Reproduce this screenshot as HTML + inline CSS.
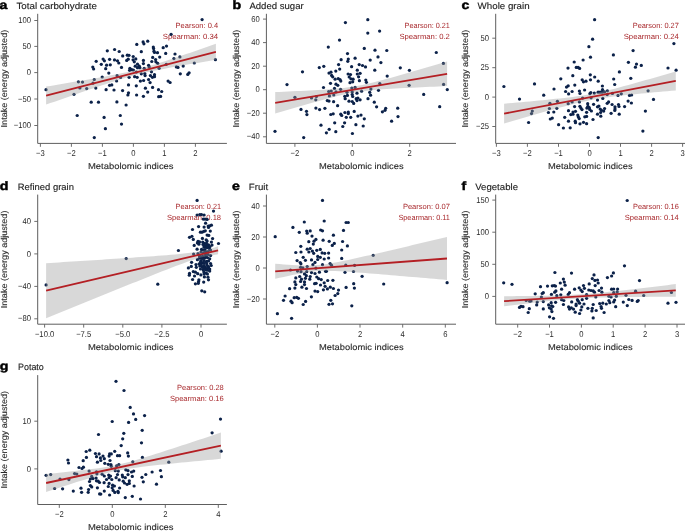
<!DOCTYPE html><html><head><meta charset="utf-8"><style>html,body{margin:0;padding:0;background:#fff;width:685px;height:531px;overflow:hidden}svg{display:block;will-change:transform;text-rendering:geometricPrecision}</style></head><body>
<svg width="685" height="531" viewBox="0 0 685 531" font-family='"Liberation Sans", sans-serif'>
<g fill="#0b2149"><text x="-0.6" y="8.8" font-size="12" font-weight="bold" fill="#000" stroke="#000" stroke-width="0.45" textLength="7.87" lengthAdjust="spacingAndGlyphs">a</text><text x="16.4" y="8.8" font-size="9.2" fill="#1a1a1a" stroke="#1a1a1a" stroke-width="0.12" textLength="80.6" lengthAdjust="spacingAndGlyphs">Total carbohydrate</text><text x="175.6" y="27.6" font-size="7.5" fill="#a8282c" textLength="42.5" lengthAdjust="spacingAndGlyphs">Pearson: 0.4</text><text x="162.7" y="38.7" font-size="7.5" fill="#a8282c" textLength="55.4" lengthAdjust="spacingAndGlyphs">Spearman: 0.34</text><circle cx="136.8" cy="44.4" r="1.62"/><circle cx="107.3" cy="50.8" r="1.62"/><circle cx="114.6" cy="49.5" r="1.62"/><circle cx="119.2" cy="51.5" r="1.62"/><circle cx="122.7" cy="55.9" r="1.62"/><circle cx="127.3" cy="55.2" r="1.62"/><circle cx="129.0" cy="55.3" r="1.62"/><circle cx="133.2" cy="56.5" r="1.62"/><circle cx="171.1" cy="34.3" r="1.62"/><circle cx="143.1" cy="41.9" r="1.62"/><circle cx="143.9" cy="43.8" r="1.62"/><circle cx="147.7" cy="41.2" r="1.62"/><circle cx="153.3" cy="47.1" r="1.62"/><circle cx="153.6" cy="48.6" r="1.62"/><circle cx="154.0" cy="51.2" r="1.62"/><circle cx="154.5" cy="52.5" r="1.62"/><circle cx="157.5" cy="52.7" r="1.62"/><circle cx="141.3" cy="51.7" r="1.62"/><circle cx="163.2" cy="47.7" r="1.62"/><circle cx="166.5" cy="46.1" r="1.62"/><circle cx="165.7" cy="53.4" r="1.62"/><circle cx="175.0" cy="54.0" r="1.62"/><circle cx="159.7" cy="57.1" r="1.62"/><circle cx="152.7" cy="57.4" r="1.62"/><circle cx="179.9" cy="56.9" r="1.62"/><circle cx="202.1" cy="19.6" r="1.62"/><circle cx="96.2" cy="61.3" r="1.62"/><circle cx="92.8" cy="67.0" r="1.62"/><circle cx="93.6" cy="69.0" r="1.62"/><circle cx="94.3" cy="79.5" r="1.62"/><circle cx="93.0" cy="83.2" r="1.62"/><circle cx="78.4" cy="81.8" r="1.62"/><circle cx="82.5" cy="82.1" r="1.62"/><circle cx="46.0" cy="89.7" r="1.62"/><circle cx="79.9" cy="88.0" r="1.62"/><circle cx="86.7" cy="88.6" r="1.62"/><circle cx="95.8" cy="88.1" r="1.62"/><circle cx="74.0" cy="94.3" r="1.62"/><circle cx="103.1" cy="59.1" r="1.62"/><circle cx="104.4" cy="60.8" r="1.62"/><circle cx="109.6" cy="59.3" r="1.62"/><circle cx="114.5" cy="59.9" r="1.62"/><circle cx="117.5" cy="60.8" r="1.62"/><circle cx="118.8" cy="63.0" r="1.62"/><circle cx="101.3" cy="64.3" r="1.62"/><circle cx="106.6" cy="65.2" r="1.62"/><circle cx="110.3" cy="64.8" r="1.62"/><circle cx="105.7" cy="68.7" r="1.62"/><circle cx="108.8" cy="73.1" r="1.62"/><circle cx="117.1" cy="75.7" r="1.62"/><circle cx="102.2" cy="77.0" r="1.62"/><circle cx="116.6" cy="81.0" r="1.62"/><circle cx="109.6" cy="85.3" r="1.62"/><circle cx="111.8" cy="84.9" r="1.62"/><circle cx="128.5" cy="84.9" r="1.62"/><circle cx="136.3" cy="85.8" r="1.62"/><circle cx="106.1" cy="89.7" r="1.62"/><circle cx="114.0" cy="90.0" r="1.62"/><circle cx="122.6" cy="90.6" r="1.62"/><circle cx="145.4" cy="88.2" r="1.62"/><circle cx="152.6" cy="87.4" r="1.62"/><circle cx="158.5" cy="89.7" r="1.62"/><circle cx="128.5" cy="92.8" r="1.62"/><circle cx="127.9" cy="95.0" r="1.62"/><circle cx="136.6" cy="95.0" r="1.62"/><circle cx="147.7" cy="92.1" r="1.62"/><circle cx="143.4" cy="96.3" r="1.62"/><circle cx="158.7" cy="96.7" r="1.62"/><circle cx="126.7" cy="60.4" r="1.62"/><circle cx="128.2" cy="59.2" r="1.62"/><circle cx="133.1" cy="59.8" r="1.62"/><circle cx="135.8" cy="58.9" r="1.62"/><circle cx="134.3" cy="61.8" r="1.62"/><circle cx="143.4" cy="60.4" r="1.62"/><circle cx="143.4" cy="63.6" r="1.62"/><circle cx="151.8" cy="61.5" r="1.62"/><circle cx="155.6" cy="59.5" r="1.62"/><circle cx="155.9" cy="61.8" r="1.62"/><circle cx="157.7" cy="63.3" r="1.62"/><circle cx="121.5" cy="67.4" r="1.62"/><circle cx="129.9" cy="68.3" r="1.62"/><circle cx="129.6" cy="70.3" r="1.62"/><circle cx="131.7" cy="69.7" r="1.62"/><circle cx="135.2" cy="66.2" r="1.62"/><circle cx="137.5" cy="64.2" r="1.62"/><circle cx="139.3" cy="66.2" r="1.62"/><circle cx="139.9" cy="67.7" r="1.62"/><circle cx="137.5" cy="67.7" r="1.62"/><circle cx="144.2" cy="68.3" r="1.62"/><circle cx="148.6" cy="65.3" r="1.62"/><circle cx="149.2" cy="67.1" r="1.62"/><circle cx="133.4" cy="70.0" r="1.62"/><circle cx="136.4" cy="72.1" r="1.62"/><circle cx="141.3" cy="73.8" r="1.62"/><circle cx="144.8" cy="73.5" r="1.62"/><circle cx="145.1" cy="75.6" r="1.62"/><circle cx="151.5" cy="71.8" r="1.62"/><circle cx="154.5" cy="74.7" r="1.62"/><circle cx="150.4" cy="75.6" r="1.62"/><circle cx="152.4" cy="77.3" r="1.62"/><circle cx="154.5" cy="76.7" r="1.62"/><circle cx="129.1" cy="77.3" r="1.62"/><circle cx="134.6" cy="76.7" r="1.62"/><circle cx="137.2" cy="77.3" r="1.62"/><circle cx="140.4" cy="81.1" r="1.62"/><circle cx="143.6" cy="80.5" r="1.62"/><circle cx="148.6" cy="79.6" r="1.62"/><circle cx="150.1" cy="82.6" r="1.62"/><circle cx="159.1" cy="68.3" r="1.62"/><circle cx="120.6" cy="77.5" r="1.62"/><circle cx="173.9" cy="58.6" r="1.62"/><circle cx="215.4" cy="59.7" r="1.62"/><circle cx="166.3" cy="64.3" r="1.62"/><circle cx="176.4" cy="66.9" r="1.62"/><circle cx="178.0" cy="67.4" r="1.62"/><circle cx="183.2" cy="66.1" r="1.62"/><circle cx="194.3" cy="63.0" r="1.62"/><circle cx="180.3" cy="73.8" r="1.62"/><circle cx="187.8" cy="74.4" r="1.62"/><circle cx="189.1" cy="72.8" r="1.62"/><circle cx="168.1" cy="81.1" r="1.62"/><circle cx="170.1" cy="82.5" r="1.62"/><circle cx="161.7" cy="91.5" r="1.62"/><circle cx="160.6" cy="96.4" r="1.62"/><circle cx="91.2" cy="102.2" r="1.62"/><circle cx="98.5" cy="102.2" r="1.62"/><circle cx="77.2" cy="115.5" r="1.62"/><circle cx="94.3" cy="137.6" r="1.62"/><circle cx="116.9" cy="101.9" r="1.62"/><circle cx="126.1" cy="105.0" r="1.62"/><circle cx="120.3" cy="115.5" r="1.62"/><circle cx="104.1" cy="117.4" r="1.62"/><circle cx="121.5" cy="124.1" r="1.62"/><circle cx="105.4" cy="128.7" r="1.62"/><polygon points="46.10,86.60 50.34,85.89 54.59,85.19 58.84,84.48 63.08,83.77 67.33,83.05 71.57,82.34 75.81,81.62 80.06,80.89 84.31,80.16 88.55,79.43 92.80,78.69 97.04,77.93 101.28,77.17 105.53,76.40 109.78,75.60 114.02,74.78 118.27,73.94 122.51,73.06 126.75,72.13 131.00,71.15 135.25,70.10 139.49,68.99 143.74,67.82 147.98,66.59 152.22,65.31 156.47,63.98 160.72,62.62 164.96,61.24 169.21,59.84 173.45,58.42 177.69,56.99 181.94,55.54 186.19,54.09 190.43,52.63 194.67,51.17 198.92,49.70 203.16,48.23 207.41,46.76 211.66,45.28 215.90,43.80 215.90,59.80 211.66,60.51 207.41,61.22 203.16,61.94 198.92,62.66 194.67,63.38 190.43,64.11 186.19,64.84 181.94,65.58 177.69,66.32 173.45,67.08 169.21,67.85 164.96,68.64 160.72,69.45 156.47,70.28 152.22,71.14 147.98,72.05 143.74,73.01 139.49,74.03 135.25,75.11 131.00,76.25 126.75,77.46 122.51,78.72 118.27,80.03 114.02,81.38 109.78,82.75 105.53,84.14 101.28,85.56 97.04,86.99 92.80,88.42 88.55,89.87 84.31,91.33 80.06,92.79 75.81,94.25 71.57,95.72 67.33,97.20 63.08,98.67 58.84,100.15 54.59,101.63 50.34,103.12 46.10,104.60" fill="#999" fill-opacity="0.38"/><line x1="46.1" y1="95.6" x2="215.9" y2="51.8" stroke="#b41f24" stroke-width="1.8"/><path d="M37.7 13.8 V143.4 H226.9" fill="none" stroke="#5e5e5e" stroke-width="1.0"/><line x1="40.4" y1="143.4" x2="40.4" y2="146.8" stroke="#5e5e5e" stroke-width="0.9"/><text x="40.4" y="156.2" font-size="8.5" fill="#2a2a2a" text-anchor="middle" textLength="8.72" lengthAdjust="spacingAndGlyphs">−3</text><line x1="71.4" y1="143.4" x2="71.4" y2="146.8" stroke="#5e5e5e" stroke-width="0.9"/><text x="71.4" y="156.2" font-size="8.5" fill="#2a2a2a" text-anchor="middle" textLength="8.72" lengthAdjust="spacingAndGlyphs">−2</text><line x1="102.4" y1="143.4" x2="102.4" y2="146.8" stroke="#5e5e5e" stroke-width="0.9"/><text x="102.4" y="156.2" font-size="8.5" fill="#2a2a2a" text-anchor="middle" textLength="8.72" lengthAdjust="spacingAndGlyphs">−1</text><line x1="133.4" y1="143.4" x2="133.4" y2="146.8" stroke="#5e5e5e" stroke-width="0.9"/><text x="133.4" y="156.2" font-size="8.5" fill="#2a2a2a" text-anchor="middle" textLength="4.25" lengthAdjust="spacingAndGlyphs">0</text><line x1="164.4" y1="143.4" x2="164.4" y2="146.8" stroke="#5e5e5e" stroke-width="0.9"/><text x="164.4" y="156.2" font-size="8.5" fill="#2a2a2a" text-anchor="middle" textLength="4.25" lengthAdjust="spacingAndGlyphs">1</text><line x1="195.4" y1="143.4" x2="195.4" y2="146.8" stroke="#5e5e5e" stroke-width="0.9"/><text x="195.4" y="156.2" font-size="8.5" fill="#2a2a2a" text-anchor="middle" textLength="4.25" lengthAdjust="spacingAndGlyphs">2</text><line x1="34.3" y1="20.5" x2="37.7" y2="20.5" stroke="#5e5e5e" stroke-width="0.9"/><text x="31.1" y="23.1" font-size="8.5" fill="#2a2a2a" text-anchor="end" textLength="12.76" lengthAdjust="spacingAndGlyphs">100</text><line x1="34.3" y1="46.4" x2="37.7" y2="46.4" stroke="#5e5e5e" stroke-width="0.9"/><text x="31.1" y="49.0" font-size="8.5" fill="#2a2a2a" text-anchor="end" textLength="8.51" lengthAdjust="spacingAndGlyphs">50</text><line x1="34.3" y1="72.6" x2="37.7" y2="72.6" stroke="#5e5e5e" stroke-width="0.9"/><text x="31.1" y="75.2" font-size="8.5" fill="#2a2a2a" text-anchor="end" textLength="4.25" lengthAdjust="spacingAndGlyphs">0</text><line x1="34.3" y1="99.0" x2="37.7" y2="99.0" stroke="#5e5e5e" stroke-width="0.9"/><text x="31.1" y="101.6" font-size="8.5" fill="#2a2a2a" text-anchor="end" textLength="12.98" lengthAdjust="spacingAndGlyphs">−50</text><line x1="34.3" y1="125.5" x2="37.7" y2="125.5" stroke="#5e5e5e" stroke-width="0.9"/><text x="31.1" y="128.1" font-size="8.5" fill="#2a2a2a" text-anchor="end" textLength="17.23" lengthAdjust="spacingAndGlyphs">−100</text><text x="88.0" y="168.9" font-size="8.5" fill="#2a2a2a" stroke="#2a2a2a" stroke-width="0.12" textLength="85.6" lengthAdjust="spacingAndGlyphs">Metabolomic indices</text><text transform="translate(7.1 78.6) rotate(-90)" x="-48.8" y="0" font-size="8.5" fill="#2a2a2a" stroke="#2a2a2a" stroke-width="0.12" textLength="97.6" lengthAdjust="spacingAndGlyphs">Intake (energy adjusted)</text></g>
<g fill="#0b2149"><text x="232.6" y="8.8" font-size="12" font-weight="bold" fill="#000" stroke="#000" stroke-width="0.45" textLength="8.65" lengthAdjust="spacingAndGlyphs">b</text><text x="249.4" y="8.8" font-size="9.2" fill="#1a1a1a" stroke="#1a1a1a" stroke-width="0.12" textLength="54.3" lengthAdjust="spacingAndGlyphs">Added sugar</text><text x="404.6" y="27.8" font-size="7.5" fill="#a8282c" textLength="45.3" lengthAdjust="spacingAndGlyphs">Pearson: 0.21</text><text x="399.4" y="38.7" font-size="7.5" fill="#a8282c" textLength="50.5" lengthAdjust="spacingAndGlyphs">Spearman: 0.2</text><circle cx="345.4" cy="22.6" r="1.62"/><circle cx="339.5" cy="40.1" r="1.62"/><circle cx="328.3" cy="47.1" r="1.62"/><circle cx="347.5" cy="53.6" r="1.62"/><circle cx="367.8" cy="19.7" r="1.62"/><circle cx="367.8" cy="33.1" r="1.62"/><circle cx="379.6" cy="31.1" r="1.62"/><circle cx="364.3" cy="48.4" r="1.62"/><circle cx="375.0" cy="50.2" r="1.62"/><circle cx="386.8" cy="50.5" r="1.62"/><circle cx="378.0" cy="56.9" r="1.62"/><circle cx="436.3" cy="52.5" r="1.62"/><circle cx="319.3" cy="67.6" r="1.62"/><circle cx="323.8" cy="66.3" r="1.62"/><circle cx="302.5" cy="71.8" r="1.62"/><circle cx="287.0" cy="84.6" r="1.62"/><circle cx="323.5" cy="87.5" r="1.62"/><circle cx="294.9" cy="97.3" r="1.62"/><circle cx="311.5" cy="98.0" r="1.62"/><circle cx="316.4" cy="96.5" r="1.62"/><circle cx="315.8" cy="99.8" r="1.62"/><circle cx="341.1" cy="59.7" r="1.62"/><circle cx="348.3" cy="59.1" r="1.62"/><circle cx="347.8" cy="61.3" r="1.62"/><circle cx="355.1" cy="58.2" r="1.62"/><circle cx="370.2" cy="60.1" r="1.62"/><circle cx="380.9" cy="62.6" r="1.62"/><circle cx="338.6" cy="64.6" r="1.62"/><circle cx="339.7" cy="69.1" r="1.62"/><circle cx="335.8" cy="71.1" r="1.62"/><circle cx="351.6" cy="66.7" r="1.62"/><circle cx="359.2" cy="64.6" r="1.62"/><circle cx="362.5" cy="65.5" r="1.62"/><circle cx="365.5" cy="66.9" r="1.62"/><circle cx="374.8" cy="70.2" r="1.62"/><circle cx="357.3" cy="70.2" r="1.62"/><circle cx="329.0" cy="73.1" r="1.62"/><circle cx="331.0" cy="72.2" r="1.62"/><circle cx="331.6" cy="75.4" r="1.62"/><circle cx="332.7" cy="76.8" r="1.62"/><circle cx="348.1" cy="74.0" r="1.62"/><circle cx="350.5" cy="74.6" r="1.62"/><circle cx="349.2" cy="77.0" r="1.62"/><circle cx="357.3" cy="74.0" r="1.62"/><circle cx="360.1" cy="73.3" r="1.62"/><circle cx="358.6" cy="76.8" r="1.62"/><circle cx="335.1" cy="79.2" r="1.62"/><circle cx="338.2" cy="78.6" r="1.62"/><circle cx="340.0" cy="79.6" r="1.62"/><circle cx="340.8" cy="81.1" r="1.62"/><circle cx="350.9" cy="78.8" r="1.62"/><circle cx="353.1" cy="79.2" r="1.62"/><circle cx="352.7" cy="81.8" r="1.62"/><circle cx="350.0" cy="82.7" r="1.62"/><circle cx="359.4" cy="80.7" r="1.62"/><circle cx="365.8" cy="80.1" r="1.62"/><circle cx="366.4" cy="82.3" r="1.62"/><circle cx="330.5" cy="83.3" r="1.62"/><circle cx="336.0" cy="84.2" r="1.62"/><circle cx="337.8" cy="85.3" r="1.62"/><circle cx="334.5" cy="88.4" r="1.62"/><circle cx="340.6" cy="89.3" r="1.62"/><circle cx="351.8" cy="88.0" r="1.62"/><circle cx="355.1" cy="87.4" r="1.62"/><circle cx="328.7" cy="91.5" r="1.62"/><circle cx="331.2" cy="91.0" r="1.62"/><circle cx="336.0" cy="91.9" r="1.62"/><circle cx="329.4" cy="95.9" r="1.62"/><circle cx="333.8" cy="95.0" r="1.62"/><circle cx="347.0" cy="92.3" r="1.62"/><circle cx="352.2" cy="91.9" r="1.62"/><circle cx="352.2" cy="94.5" r="1.62"/><circle cx="357.0" cy="93.2" r="1.62"/><circle cx="361.6" cy="91.2" r="1.62"/><circle cx="370.9" cy="89.1" r="1.62"/><circle cx="369.7" cy="92.3" r="1.62"/><circle cx="370.6" cy="95.2" r="1.62"/><circle cx="378.5" cy="90.3" r="1.62"/><circle cx="379.8" cy="83.6" r="1.62"/><circle cx="344.8" cy="96.3" r="1.62"/><circle cx="345.2" cy="98.7" r="1.62"/><circle cx="347.4" cy="95.4" r="1.62"/><circle cx="352.7" cy="96.5" r="1.62"/><circle cx="356.2" cy="98.7" r="1.62"/><circle cx="357.9" cy="98.0" r="1.62"/><circle cx="360.1" cy="99.8" r="1.62"/><circle cx="368.0" cy="98.7" r="1.62"/><circle cx="400.3" cy="67.8" r="1.62"/><circle cx="409.4" cy="70.3" r="1.62"/><circle cx="387.2" cy="76.1" r="1.62"/><circle cx="409.1" cy="85.3" r="1.62"/><circle cx="423.7" cy="94.4" r="1.62"/><circle cx="443.4" cy="63.4" r="1.62"/><circle cx="443.6" cy="84.4" r="1.62"/><circle cx="447.3" cy="89.6" r="1.62"/><circle cx="301.0" cy="109.4" r="1.62"/><circle cx="306.5" cy="111.3" r="1.62"/><circle cx="306.9" cy="114.6" r="1.62"/><circle cx="315.9" cy="108.1" r="1.62"/><circle cx="319.6" cy="109.6" r="1.62"/><circle cx="324.9" cy="108.3" r="1.62"/><circle cx="321.0" cy="125.2" r="1.62"/><circle cx="275.0" cy="131.3" r="1.62"/><circle cx="303.7" cy="137.6" r="1.62"/><circle cx="327.3" cy="100.6" r="1.62"/><circle cx="329.0" cy="101.1" r="1.62"/><circle cx="333.6" cy="101.7" r="1.62"/><circle cx="349.0" cy="101.2" r="1.62"/><circle cx="352.2" cy="101.5" r="1.62"/><circle cx="353.7" cy="103.4" r="1.62"/><circle cx="357.0" cy="100.6" r="1.62"/><circle cx="374.3" cy="102.2" r="1.62"/><circle cx="337.6" cy="105.7" r="1.62"/><circle cx="376.6" cy="106.8" r="1.62"/><circle cx="330.8" cy="114.5" r="1.62"/><circle cx="333.2" cy="113.8" r="1.62"/><circle cx="340.8" cy="114.2" r="1.62"/><circle cx="341.7" cy="115.5" r="1.62"/><circle cx="344.9" cy="112.5" r="1.62"/><circle cx="348.3" cy="112.0" r="1.62"/><circle cx="348.3" cy="113.6" r="1.62"/><circle cx="354.2" cy="111.4" r="1.62"/><circle cx="346.3" cy="117.3" r="1.62"/><circle cx="350.7" cy="117.3" r="1.62"/><circle cx="357.9" cy="116.1" r="1.62"/><circle cx="361.0" cy="115.1" r="1.62"/><circle cx="364.3" cy="118.8" r="1.62"/><circle cx="334.7" cy="122.8" r="1.62"/><circle cx="344.6" cy="122.8" r="1.62"/><circle cx="342.8" cy="126.5" r="1.62"/><circle cx="355.9" cy="124.7" r="1.62"/><circle cx="363.2" cy="126.0" r="1.62"/><circle cx="329.2" cy="129.3" r="1.62"/><circle cx="326.4" cy="132.8" r="1.62"/><circle cx="335.8" cy="131.7" r="1.62"/><circle cx="352.4" cy="133.5" r="1.62"/><circle cx="385.7" cy="108.3" r="1.62"/><circle cx="385.0" cy="110.3" r="1.62"/><circle cx="382.4" cy="111.8" r="1.62"/><circle cx="397.7" cy="108.2" r="1.62"/><circle cx="398.0" cy="116.6" r="1.62"/><circle cx="391.6" cy="121.2" r="1.62"/><circle cx="439.7" cy="106.7" r="1.62"/><polygon points="275.20,92.10 279.50,91.91 283.80,91.71 288.09,91.51 292.39,91.31 296.69,91.10 300.99,90.89 305.28,90.67 309.58,90.44 313.88,90.21 318.18,89.96 322.47,89.69 326.77,89.41 331.07,89.09 335.37,88.74 339.66,88.35 343.96,87.89 348.26,87.36 352.56,86.74 356.85,86.01 361.15,85.19 365.45,84.27 369.75,83.28 374.04,82.22 378.34,81.12 382.64,79.99 386.94,78.82 391.23,77.64 395.53,76.44 399.83,75.22 404.12,74.00 408.42,72.77 412.72,71.53 417.02,70.29 421.32,69.04 425.61,67.79 429.91,66.54 434.21,65.28 438.50,64.02 442.80,62.76 447.10,61.50 447.10,86.10 442.80,86.29 438.50,86.48 434.21,86.67 429.91,86.86 425.61,87.06 421.32,87.26 417.02,87.46 412.72,87.67 408.42,87.88 404.12,88.10 399.83,88.33 395.53,88.56 391.23,88.81 386.94,89.08 382.64,89.36 378.34,89.68 374.04,90.03 369.75,90.42 365.45,90.88 361.15,91.41 356.85,92.04 352.56,92.76 348.26,93.59 343.96,94.51 339.66,95.50 335.37,96.56 331.07,97.66 326.77,98.79 322.47,99.96 318.18,101.14 313.88,102.34 309.58,103.56 305.28,104.78 300.99,106.01 296.69,107.25 292.39,108.49 288.09,109.74 283.80,110.99 279.50,112.24 275.20,113.50" fill="#999" fill-opacity="0.38"/><line x1="275.2" y1="102.8" x2="447.1" y2="73.8" stroke="#b41f24" stroke-width="1.8"/><path d="M266.4 13.8 V143.4 H456.0" fill="none" stroke="#5e5e5e" stroke-width="1.0"/><line x1="294.9" y1="143.4" x2="294.9" y2="146.8" stroke="#5e5e5e" stroke-width="0.9"/><text x="294.9" y="156.2" font-size="8.5" fill="#2a2a2a" text-anchor="middle" textLength="8.72" lengthAdjust="spacingAndGlyphs">−2</text><line x1="352.3" y1="143.4" x2="352.3" y2="146.8" stroke="#5e5e5e" stroke-width="0.9"/><text x="352.3" y="156.2" font-size="8.5" fill="#2a2a2a" text-anchor="middle" textLength="4.25" lengthAdjust="spacingAndGlyphs">0</text><line x1="409.7" y1="143.4" x2="409.7" y2="146.8" stroke="#5e5e5e" stroke-width="0.9"/><text x="409.7" y="156.2" font-size="8.5" fill="#2a2a2a" text-anchor="middle" textLength="4.25" lengthAdjust="spacingAndGlyphs">2</text><line x1="263.0" y1="19.1" x2="266.4" y2="19.1" stroke="#5e5e5e" stroke-width="0.9"/><text x="259.8" y="21.7" font-size="8.5" fill="#2a2a2a" text-anchor="end" textLength="8.51" lengthAdjust="spacingAndGlyphs">60</text><line x1="263.0" y1="42.6" x2="266.4" y2="42.6" stroke="#5e5e5e" stroke-width="0.9"/><text x="259.8" y="45.2" font-size="8.5" fill="#2a2a2a" text-anchor="end" textLength="8.51" lengthAdjust="spacingAndGlyphs">40</text><line x1="263.0" y1="66.2" x2="266.4" y2="66.2" stroke="#5e5e5e" stroke-width="0.9"/><text x="259.8" y="68.8" font-size="8.5" fill="#2a2a2a" text-anchor="end" textLength="8.51" lengthAdjust="spacingAndGlyphs">20</text><line x1="263.0" y1="89.7" x2="266.4" y2="89.7" stroke="#5e5e5e" stroke-width="0.9"/><text x="259.8" y="92.3" font-size="8.5" fill="#2a2a2a" text-anchor="end" textLength="4.25" lengthAdjust="spacingAndGlyphs">0</text><line x1="263.0" y1="113.2" x2="266.4" y2="113.2" stroke="#5e5e5e" stroke-width="0.9"/><text x="259.8" y="115.8" font-size="8.5" fill="#2a2a2a" text-anchor="end" textLength="12.98" lengthAdjust="spacingAndGlyphs">−20</text><line x1="263.0" y1="136.8" x2="266.4" y2="136.8" stroke="#5e5e5e" stroke-width="0.9"/><text x="259.8" y="139.4" font-size="8.5" fill="#2a2a2a" text-anchor="end" textLength="12.98" lengthAdjust="spacingAndGlyphs">−40</text><text x="319.0" y="168.9" font-size="8.5" fill="#2a2a2a" stroke="#2a2a2a" stroke-width="0.12" textLength="84.6" lengthAdjust="spacingAndGlyphs">Metabolomic indices</text><text transform="translate(239.3 78.6) rotate(-90)" x="-48.8" y="0" font-size="8.5" fill="#2a2a2a" stroke="#2a2a2a" stroke-width="0.12" textLength="97.6" lengthAdjust="spacingAndGlyphs">Intake (energy adjusted)</text></g>
<g fill="#0b2149"><text x="461.4" y="8.8" font-size="12" font-weight="bold" fill="#000" stroke="#000" stroke-width="0.45" textLength="7.87" lengthAdjust="spacingAndGlyphs">c</text><text x="477.6" y="8.8" font-size="9.2" fill="#1a1a1a" stroke="#1a1a1a" stroke-width="0.12" textLength="52.0" lengthAdjust="spacingAndGlyphs">Whole grain</text><text x="632.7" y="27.8" font-size="7.5" fill="#a8282c" textLength="46.1" lengthAdjust="spacingAndGlyphs">Pearson: 0.27</text><text x="623.7" y="38.7" font-size="7.5" fill="#a8282c" textLength="55.1" lengthAdjust="spacingAndGlyphs">Spearman: 0.24</text><circle cx="594.6" cy="19.7" r="1.62"/><circle cx="592.6" cy="39.2" r="1.62"/><circle cx="588.9" cy="46.7" r="1.62"/><circle cx="613.4" cy="54.9" r="1.62"/><circle cx="590.5" cy="57.2" r="1.62"/><circle cx="633.1" cy="50.6" r="1.62"/><circle cx="673.9" cy="43.6" r="1.62"/><circle cx="503.9" cy="86.5" r="1.62"/><circle cx="534.5" cy="83.9" r="1.62"/><circle cx="554.0" cy="89.0" r="1.62"/><circle cx="543.7" cy="95.2" r="1.62"/><circle cx="519.5" cy="99.1" r="1.62"/><circle cx="574.2" cy="62.0" r="1.62"/><circle cx="583.1" cy="60.0" r="1.62"/><circle cx="568.0" cy="68.1" r="1.62"/><circle cx="576.3" cy="67.4" r="1.62"/><circle cx="578.1" cy="67.4" r="1.62"/><circle cx="579.6" cy="68.4" r="1.62"/><circle cx="572.8" cy="75.7" r="1.62"/><circle cx="560.8" cy="78.8" r="1.62"/><circle cx="590.3" cy="74.8" r="1.62"/><circle cx="594.7" cy="77.0" r="1.62"/><circle cx="582.2" cy="79.8" r="1.62"/><circle cx="583.5" cy="81.8" r="1.62"/><circle cx="586.0" cy="81.2" r="1.62"/><circle cx="590.5" cy="79.8" r="1.62"/><circle cx="598.2" cy="81.2" r="1.62"/><circle cx="568.2" cy="85.8" r="1.62"/><circle cx="566.5" cy="87.1" r="1.62"/><circle cx="574.8" cy="85.1" r="1.62"/><circle cx="565.6" cy="91.5" r="1.62"/><circle cx="568.6" cy="93.9" r="1.62"/><circle cx="572.1" cy="91.5" r="1.62"/><circle cx="579.4" cy="91.0" r="1.62"/><circle cx="580.0" cy="93.5" r="1.62"/><circle cx="584.6" cy="90.0" r="1.62"/><circle cx="602.4" cy="86.0" r="1.62"/><circle cx="602.5" cy="89.7" r="1.62"/><circle cx="614.7" cy="84.5" r="1.62"/><circle cx="590.8" cy="92.5" r="1.62"/><circle cx="589.9" cy="93.7" r="1.62"/><circle cx="594.3" cy="93.1" r="1.62"/><circle cx="598.1" cy="92.2" r="1.62"/><circle cx="600.1" cy="92.2" r="1.62"/><circle cx="602.2" cy="92.2" r="1.62"/><circle cx="604.5" cy="91.9" r="1.62"/><circle cx="607.4" cy="90.8" r="1.62"/><circle cx="607.2" cy="94.6" r="1.62"/><circle cx="612.4" cy="93.4" r="1.62"/><circle cx="618.0" cy="95.4" r="1.62"/><circle cx="582.6" cy="98.1" r="1.62"/><circle cx="591.1" cy="97.8" r="1.62"/><circle cx="602.8" cy="98.4" r="1.62"/><circle cx="597.5" cy="100.1" r="1.62"/><circle cx="628.4" cy="62.3" r="1.62"/><circle cx="636.5" cy="64.1" r="1.62"/><circle cx="635.4" cy="67.2" r="1.62"/><circle cx="641.3" cy="65.4" r="1.62"/><circle cx="619.4" cy="71.9" r="1.62"/><circle cx="613.7" cy="79.0" r="1.62"/><circle cx="630.8" cy="78.3" r="1.62"/><circle cx="621.3" cy="93.8" r="1.62"/><circle cx="629.5" cy="95.4" r="1.62"/><circle cx="631.6" cy="95.0" r="1.62"/><circle cx="648.1" cy="90.8" r="1.62"/><circle cx="653.5" cy="99.4" r="1.62"/><circle cx="668.0" cy="68.0" r="1.62"/><circle cx="676.1" cy="70.2" r="1.62"/><circle cx="532.3" cy="111.1" r="1.62"/><circle cx="531.5" cy="113.6" r="1.62"/><circle cx="528.6" cy="122.5" r="1.62"/><circle cx="549.9" cy="103.3" r="1.62"/><circle cx="549.4" cy="108.5" r="1.62"/><circle cx="548.4" cy="112.5" r="1.62"/><circle cx="553.8" cy="112.0" r="1.62"/><circle cx="550.3" cy="119.0" r="1.62"/><circle cx="552.3" cy="118.1" r="1.62"/><circle cx="557.4" cy="101.3" r="1.62"/><circle cx="568.2" cy="103.7" r="1.62"/><circle cx="572.1" cy="101.9" r="1.62"/><circle cx="579.4" cy="101.9" r="1.62"/><circle cx="556.8" cy="108.3" r="1.62"/><circle cx="574.6" cy="106.6" r="1.62"/><circle cx="579.9" cy="106.3" r="1.62"/><circle cx="580.9" cy="108.1" r="1.62"/><circle cx="582.0" cy="109.6" r="1.62"/><circle cx="587.7" cy="103.7" r="1.62"/><circle cx="587.9" cy="106.3" r="1.62"/><circle cx="586.9" cy="108.1" r="1.62"/><circle cx="589.2" cy="107.6" r="1.62"/><circle cx="589.7" cy="109.4" r="1.62"/><circle cx="591.4" cy="111.0" r="1.62"/><circle cx="593.6" cy="104.3" r="1.62"/><circle cx="597.5" cy="106.8" r="1.62"/><circle cx="598.9" cy="106.1" r="1.62"/><circle cx="600.2" cy="109.0" r="1.62"/><circle cx="601.5" cy="110.3" r="1.62"/><circle cx="603.7" cy="111.1" r="1.62"/><circle cx="604.6" cy="108.5" r="1.62"/><circle cx="600.6" cy="112.5" r="1.62"/><circle cx="597.5" cy="114.2" r="1.62"/><circle cx="600.8" cy="116.2" r="1.62"/><circle cx="611.1" cy="113.3" r="1.62"/><circle cx="568.5" cy="110.7" r="1.62"/><circle cx="573.0" cy="112.0" r="1.62"/><circle cx="575.5" cy="111.3" r="1.62"/><circle cx="570.8" cy="114.6" r="1.62"/><circle cx="573.0" cy="114.2" r="1.62"/><circle cx="577.8" cy="115.1" r="1.62"/><circle cx="578.3" cy="116.8" r="1.62"/><circle cx="579.2" cy="118.6" r="1.62"/><circle cx="586.6" cy="112.3" r="1.62"/><circle cx="584.8" cy="116.8" r="1.62"/><circle cx="586.6" cy="116.4" r="1.62"/><circle cx="564.7" cy="117.3" r="1.62"/><circle cx="568.5" cy="121.2" r="1.62"/><circle cx="575.2" cy="121.2" r="1.62"/><circle cx="575.5" cy="122.7" r="1.62"/><circle cx="580.0" cy="123.8" r="1.62"/><circle cx="583.5" cy="122.3" r="1.62"/><circle cx="586.6" cy="123.7" r="1.62"/><circle cx="593.0" cy="119.5" r="1.62"/><circle cx="558.6" cy="124.7" r="1.62"/><circle cx="563.4" cy="128.0" r="1.62"/><circle cx="570.2" cy="127.8" r="1.62"/><circle cx="598.2" cy="137.6" r="1.62"/><circle cx="608.6" cy="101.9" r="1.62"/><circle cx="607.2" cy="103.3" r="1.62"/><circle cx="612.1" cy="104.5" r="1.62"/><circle cx="618.5" cy="104.5" r="1.62"/><circle cx="615.0" cy="106.8" r="1.62"/><circle cx="619.0" cy="106.5" r="1.62"/><circle cx="615.0" cy="108.9" r="1.62"/><circle cx="614.8" cy="110.5" r="1.62"/><circle cx="619.2" cy="114.2" r="1.62"/><circle cx="624.6" cy="106.6" r="1.62"/><circle cx="628.1" cy="101.1" r="1.62"/><circle cx="631.4" cy="103.0" r="1.62"/><circle cx="645.4" cy="111.1" r="1.62"/><circle cx="642.9" cy="131.1" r="1.62"/><polygon points="504.10,103.70 508.39,103.32 512.69,102.94 516.98,102.56 521.27,102.17 525.56,101.78 529.86,101.38 534.15,100.98 538.44,100.58 542.73,100.17 547.02,99.75 551.32,99.31 555.61,98.87 559.90,98.41 564.20,97.93 568.49,97.42 572.78,96.88 577.07,96.31 581.37,95.68 585.66,94.99 589.95,94.24 594.24,93.42 598.53,92.53 602.83,91.58 607.12,90.56 611.41,89.50 615.70,88.40 620.00,87.27 624.29,86.12 628.58,84.94 632.88,83.75 637.17,82.54 641.46,81.33 645.75,80.11 650.04,78.88 654.34,77.64 658.63,76.40 662.92,75.15 667.21,73.91 671.51,72.65 675.80,71.40 675.80,90.40 671.51,90.78 667.21,91.16 662.92,91.55 658.63,91.94 654.34,92.34 650.04,92.73 645.75,93.14 641.46,93.55 637.17,93.97 632.88,94.40 628.58,94.85 624.29,95.30 620.00,95.78 615.70,96.29 611.41,96.82 607.12,97.40 602.83,98.02 598.53,98.70 594.24,99.44 589.95,100.26 585.66,101.14 581.37,102.09 577.07,103.10 572.78,104.16 568.49,105.25 564.20,106.38 559.90,107.54 555.61,108.71 551.32,109.90 547.02,111.10 542.73,112.32 538.44,113.54 534.15,114.77 529.86,116.01 525.56,117.25 521.27,118.49 516.98,119.74 512.69,120.99 508.39,122.24 504.10,123.50" fill="#999" fill-opacity="0.38"/><line x1="504.1" y1="113.6" x2="675.8" y2="80.9" stroke="#b41f24" stroke-width="1.8"/><path d="M495.7 13.8 V143.4 H685.0" fill="none" stroke="#5e5e5e" stroke-width="1.0"/><line x1="496.4" y1="143.4" x2="496.4" y2="146.8" stroke="#5e5e5e" stroke-width="0.9"/><text x="496.4" y="156.2" font-size="8.5" fill="#2a2a2a" text-anchor="middle" textLength="8.72" lengthAdjust="spacingAndGlyphs">−3</text><line x1="527.4" y1="143.4" x2="527.4" y2="146.8" stroke="#5e5e5e" stroke-width="0.9"/><text x="527.4" y="156.2" font-size="8.5" fill="#2a2a2a" text-anchor="middle" textLength="8.72" lengthAdjust="spacingAndGlyphs">−2</text><line x1="558.5" y1="143.4" x2="558.5" y2="146.8" stroke="#5e5e5e" stroke-width="0.9"/><text x="558.5" y="156.2" font-size="8.5" fill="#2a2a2a" text-anchor="middle" textLength="8.72" lengthAdjust="spacingAndGlyphs">−1</text><line x1="589.5" y1="143.4" x2="589.5" y2="146.8" stroke="#5e5e5e" stroke-width="0.9"/><text x="589.5" y="156.2" font-size="8.5" fill="#2a2a2a" text-anchor="middle" textLength="4.25" lengthAdjust="spacingAndGlyphs">0</text><line x1="620.5" y1="143.4" x2="620.5" y2="146.8" stroke="#5e5e5e" stroke-width="0.9"/><text x="620.5" y="156.2" font-size="8.5" fill="#2a2a2a" text-anchor="middle" textLength="4.25" lengthAdjust="spacingAndGlyphs">1</text><line x1="651.6" y1="143.4" x2="651.6" y2="146.8" stroke="#5e5e5e" stroke-width="0.9"/><text x="651.6" y="156.2" font-size="8.5" fill="#2a2a2a" text-anchor="middle" textLength="4.25" lengthAdjust="spacingAndGlyphs">2</text><line x1="682.6" y1="143.4" x2="682.6" y2="146.8" stroke="#5e5e5e" stroke-width="0.9"/><text x="682.6" y="156.2" font-size="8.5" fill="#2a2a2a" text-anchor="middle" textLength="4.25" lengthAdjust="spacingAndGlyphs">3</text><line x1="492.3" y1="38.2" x2="495.7" y2="38.2" stroke="#5e5e5e" stroke-width="0.9"/><text x="489.1" y="40.8" font-size="8.5" fill="#2a2a2a" text-anchor="end" textLength="8.51" lengthAdjust="spacingAndGlyphs">50</text><line x1="492.3" y1="67.7" x2="495.7" y2="67.7" stroke="#5e5e5e" stroke-width="0.9"/><text x="489.1" y="70.3" font-size="8.5" fill="#2a2a2a" text-anchor="end" textLength="8.51" lengthAdjust="spacingAndGlyphs">25</text><line x1="492.3" y1="97.1" x2="495.7" y2="97.1" stroke="#5e5e5e" stroke-width="0.9"/><text x="489.1" y="99.7" font-size="8.5" fill="#2a2a2a" text-anchor="end" textLength="4.25" lengthAdjust="spacingAndGlyphs">0</text><line x1="492.3" y1="126.5" x2="495.7" y2="126.5" stroke="#5e5e5e" stroke-width="0.9"/><text x="489.1" y="129.1" font-size="8.5" fill="#2a2a2a" text-anchor="end" textLength="12.98" lengthAdjust="spacingAndGlyphs">−25</text><text x="547.9" y="168.9" font-size="8.5" fill="#2a2a2a" stroke="#2a2a2a" stroke-width="0.12" textLength="84.7" lengthAdjust="spacingAndGlyphs">Metabolomic indices</text><text transform="translate(468.3 78.6) rotate(-90)" x="-48.8" y="0" font-size="8.5" fill="#2a2a2a" stroke="#2a2a2a" stroke-width="0.12" textLength="97.6" lengthAdjust="spacingAndGlyphs">Intake (energy adjusted)</text></g>
<g fill="#0b2149"><text x="-0.3" y="189.6" font-size="12" font-weight="bold" fill="#000" stroke="#000" stroke-width="0.45" textLength="8.65" lengthAdjust="spacingAndGlyphs">d</text><text x="17.8" y="189.6" font-size="9.2" fill="#1a1a1a" stroke="#1a1a1a" stroke-width="0.12" textLength="56.1" lengthAdjust="spacingAndGlyphs">Refined grain</text><text x="175.6" y="208.6" font-size="7.5" fill="#a8282c" textLength="45.5" lengthAdjust="spacingAndGlyphs">Pearson: 0.21</text><text x="167.0" y="219.9" font-size="7.5" fill="#a8282c" textLength="54.1" lengthAdjust="spacingAndGlyphs">Spearman: 0.18</text><circle cx="197.1" cy="200.4" r="1.62"/><circle cx="213.5" cy="211.1" r="1.62"/><circle cx="197.1" cy="215.0" r="1.62"/><circle cx="199.8" cy="214.6" r="1.62"/><circle cx="201.5" cy="214.6" r="1.62"/><circle cx="204.1" cy="215.0" r="1.62"/><circle cx="203.3" cy="219.1" r="1.62"/><circle cx="205.0" cy="219.1" r="1.62"/><circle cx="207.1" cy="219.4" r="1.62"/><circle cx="205.6" cy="223.2" r="1.62"/><circle cx="198.6" cy="226.6" r="1.62"/><circle cx="204.1" cy="227.1" r="1.62"/><circle cx="208.2" cy="226.1" r="1.62"/><circle cx="209.7" cy="225.8" r="1.62"/><circle cx="211.4" cy="225.2" r="1.62"/><circle cx="208.5" cy="227.5" r="1.62"/><circle cx="192.5" cy="229.5" r="1.62"/><circle cx="200.4" cy="232.2" r="1.62"/><circle cx="202.1" cy="232.2" r="1.62"/><circle cx="203.9" cy="231.3" r="1.62"/><circle cx="205.3" cy="230.8" r="1.62"/><circle cx="210.3" cy="231.1" r="1.62"/><circle cx="207.1" cy="235.1" r="1.62"/><circle cx="208.8" cy="235.4" r="1.62"/><circle cx="189.5" cy="237.3" r="1.62"/><circle cx="191.9" cy="236.3" r="1.62"/><circle cx="193.3" cy="239.4" r="1.62"/><circle cx="202.4" cy="238.4" r="1.62"/><circle cx="212.6" cy="238.6" r="1.62"/><circle cx="206.2" cy="239.8" r="1.62"/><circle cx="207.1" cy="241.0" r="1.62"/><circle cx="198.0" cy="241.3" r="1.62"/><circle cx="199.5" cy="241.9" r="1.62"/><circle cx="197.4" cy="243.0" r="1.62"/><circle cx="198.9" cy="244.2" r="1.62"/><circle cx="202.7" cy="242.1" r="1.62"/><circle cx="204.1" cy="243.3" r="1.62"/><circle cx="211.4" cy="242.1" r="1.62"/><circle cx="218.5" cy="243.5" r="1.62"/><circle cx="194.2" cy="245.4" r="1.62"/><circle cx="206.2" cy="245.4" r="1.62"/><circle cx="208.5" cy="244.8" r="1.62"/><circle cx="212.0" cy="245.1" r="1.62"/><circle cx="203.9" cy="247.1" r="1.62"/><circle cx="205.6" cy="247.1" r="1.62"/><circle cx="207.4" cy="247.7" r="1.62"/><circle cx="209.1" cy="247.1" r="1.62"/><circle cx="197.1" cy="249.2" r="1.62"/><circle cx="201.5" cy="249.4" r="1.62"/><circle cx="203.3" cy="250.0" r="1.62"/><circle cx="205.0" cy="249.7" r="1.62"/><circle cx="209.7" cy="249.4" r="1.62"/><circle cx="193.6" cy="254.1" r="1.62"/><circle cx="198.0" cy="253.5" r="1.62"/><circle cx="210.6" cy="255.6" r="1.62"/><circle cx="197.4" cy="259.7" r="1.62"/><circle cx="199.8" cy="258.2" r="1.62"/><circle cx="202.1" cy="258.5" r="1.62"/><circle cx="204.4" cy="258.2" r="1.62"/><circle cx="207.4" cy="257.6" r="1.62"/><circle cx="209.7" cy="258.8" r="1.62"/><circle cx="200.9" cy="260.8" r="1.62"/><circle cx="203.9" cy="260.6" r="1.62"/><circle cx="206.8" cy="261.4" r="1.62"/><circle cx="191.6" cy="262.3" r="1.62"/><circle cx="196.0" cy="264.6" r="1.62"/><circle cx="199.2" cy="263.8" r="1.62"/><circle cx="201.5" cy="263.5" r="1.62"/><circle cx="204.1" cy="263.5" r="1.62"/><circle cx="206.8" cy="264.1" r="1.62"/><circle cx="210.6" cy="263.5" r="1.62"/><circle cx="211.2" cy="265.5" r="1.62"/><circle cx="191.3" cy="266.4" r="1.62"/><circle cx="188.4" cy="267.9" r="1.62"/><circle cx="196.3" cy="267.3" r="1.62"/><circle cx="199.8" cy="266.1" r="1.62"/><circle cx="202.1" cy="266.7" r="1.62"/><circle cx="205.0" cy="267.3" r="1.62"/><circle cx="208.5" cy="266.7" r="1.62"/><circle cx="209.7" cy="269.0" r="1.62"/><circle cx="203.3" cy="269.9" r="1.62"/><circle cx="205.6" cy="269.6" r="1.62"/><circle cx="207.4" cy="270.2" r="1.62"/><circle cx="193.3" cy="271.6" r="1.62"/><circle cx="195.4" cy="272.2" r="1.62"/><circle cx="197.7" cy="273.7" r="1.62"/><circle cx="203.9" cy="271.9" r="1.62"/><circle cx="206.2" cy="273.1" r="1.62"/><circle cx="209.7" cy="271.1" r="1.62"/><circle cx="189.5" cy="273.4" r="1.62"/><circle cx="189.3" cy="275.2" r="1.62"/><circle cx="194.5" cy="276.0" r="1.62"/><circle cx="200.9" cy="274.9" r="1.62"/><circle cx="204.1" cy="274.0" r="1.62"/><circle cx="207.4" cy="274.0" r="1.62"/><circle cx="204.4" cy="276.9" r="1.62"/><circle cx="208.0" cy="277.2" r="1.62"/><circle cx="208.5" cy="279.8" r="1.62"/><circle cx="192.6" cy="279.5" r="1.62"/><circle cx="198.9" cy="279.8" r="1.62"/><circle cx="198.6" cy="281.6" r="1.62"/><circle cx="198.3" cy="283.3" r="1.62"/><circle cx="195.4" cy="283.8" r="1.62"/><circle cx="203.7" cy="282.1" r="1.62"/><circle cx="201.8" cy="290.8" r="1.62"/><circle cx="204.7" cy="291.8" r="1.62"/><circle cx="46.1" cy="284.9" r="1.62"/><circle cx="126.2" cy="258.6" r="1.62"/><circle cx="157.8" cy="284.2" r="1.62"/><circle cx="178.4" cy="250.5" r="1.62"/><circle cx="201.0" cy="252.0" r="1.62"/><circle cx="203.5" cy="253.0" r="1.62"/><circle cx="206.0" cy="252.0" r="1.62"/><circle cx="199.5" cy="255.5" r="1.62"/><circle cx="202.5" cy="256.0" r="1.62"/><circle cx="205.5" cy="255.0" r="1.62"/><circle cx="208.0" cy="254.5" r="1.62"/><circle cx="204.5" cy="245.5" r="1.62"/><circle cx="207.5" cy="246.0" r="1.62"/><circle cx="210.0" cy="246.5" r="1.62"/><circle cx="205.0" cy="251.0" r="1.62"/><circle cx="208.0" cy="251.5" r="1.62"/><circle cx="210.5" cy="250.0" r="1.62"/><circle cx="206.5" cy="243.0" r="1.62"/><circle cx="203.0" cy="244.5" r="1.62"/><circle cx="199.5" cy="257.0" r="1.62"/><circle cx="202.5" cy="257.3" r="1.62"/><circle cx="205.5" cy="257.0" r="1.62"/><circle cx="200.5" cy="262.0" r="1.62"/><circle cx="203.0" cy="262.5" r="1.62"/><circle cx="206.0" cy="262.0" r="1.62"/><circle cx="208.5" cy="261.0" r="1.62"/><circle cx="201.0" cy="265.0" r="1.62"/><circle cx="204.0" cy="266.0" r="1.62"/><circle cx="207.0" cy="265.5" r="1.62"/><circle cx="200.5" cy="269.0" r="1.62"/><circle cx="203.5" cy="268.0" r="1.62"/><circle cx="206.5" cy="268.5" r="1.62"/><circle cx="208.5" cy="268.0" r="1.62"/><polygon points="46.10,263.20 50.40,262.93 54.70,262.65 59.00,262.38 63.30,262.11 67.60,261.83 71.90,261.56 76.20,261.29 80.50,261.01 84.80,260.74 89.10,260.46 93.40,260.18 97.70,259.90 102.00,259.63 106.30,259.35 110.60,259.07 114.90,258.78 119.20,258.50 123.50,258.22 127.80,257.93 132.10,257.64 136.40,257.35 140.70,257.05 145.00,256.75 149.30,256.45 153.60,256.14 157.90,255.82 162.20,255.50 166.50,255.16 170.80,254.81 175.10,254.44 179.40,254.04 183.70,253.61 188.00,253.12 192.30,252.56 196.60,251.89 200.90,251.09 205.20,250.13 209.50,248.99 213.80,247.71 218.10,246.30 218.10,254.30 213.80,254.91 209.50,255.65 205.20,256.53 200.90,257.59 196.60,258.81 192.30,260.16 188.00,261.62 183.70,263.15 179.40,264.74 175.10,266.36 170.80,268.01 166.50,269.68 162.20,271.36 157.90,273.06 153.60,274.76 149.30,276.47 145.00,278.19 140.70,279.91 136.40,281.63 132.10,283.36 127.80,285.09 123.50,286.82 119.20,288.56 114.90,290.30 110.60,292.03 106.30,293.77 102.00,295.51 97.70,297.26 93.40,299.00 89.10,300.74 84.80,302.48 80.50,304.23 76.20,305.97 71.90,307.72 67.60,309.47 63.30,311.21 59.00,312.96 54.70,314.71 50.40,316.45 46.10,318.20" fill="#999" fill-opacity="0.38"/><line x1="46.1" y1="290.7" x2="218.1" y2="250.3" stroke="#b41f24" stroke-width="1.8"/><path d="M37.7 194.6 V324.2 H226.9" fill="none" stroke="#5e5e5e" stroke-width="1.0"/><line x1="44.6" y1="324.2" x2="44.6" y2="327.6" stroke="#5e5e5e" stroke-width="0.9"/><text x="44.6" y="337.0" font-size="8.5" fill="#2a2a2a" text-anchor="middle" textLength="19.36" lengthAdjust="spacingAndGlyphs">−10.0</text><line x1="83.7" y1="324.2" x2="83.7" y2="327.6" stroke="#5e5e5e" stroke-width="0.9"/><text x="83.7" y="337.0" font-size="8.5" fill="#2a2a2a" text-anchor="middle" textLength="15.10" lengthAdjust="spacingAndGlyphs">−7.5</text><line x1="122.8" y1="324.2" x2="122.8" y2="327.6" stroke="#5e5e5e" stroke-width="0.9"/><text x="122.8" y="337.0" font-size="8.5" fill="#2a2a2a" text-anchor="middle" textLength="15.10" lengthAdjust="spacingAndGlyphs">−5.0</text><line x1="161.9" y1="324.2" x2="161.9" y2="327.6" stroke="#5e5e5e" stroke-width="0.9"/><text x="161.9" y="337.0" font-size="8.5" fill="#2a2a2a" text-anchor="middle" textLength="15.10" lengthAdjust="spacingAndGlyphs">−2.5</text><line x1="201.0" y1="324.2" x2="201.0" y2="327.6" stroke="#5e5e5e" stroke-width="0.9"/><text x="201.0" y="337.0" font-size="8.5" fill="#2a2a2a" text-anchor="middle" textLength="4.25" lengthAdjust="spacingAndGlyphs">0</text><line x1="34.3" y1="221.4" x2="37.7" y2="221.4" stroke="#5e5e5e" stroke-width="0.9"/><text x="31.1" y="224.0" font-size="8.5" fill="#2a2a2a" text-anchor="end" textLength="8.51" lengthAdjust="spacingAndGlyphs">40</text><line x1="34.3" y1="253.9" x2="37.7" y2="253.9" stroke="#5e5e5e" stroke-width="0.9"/><text x="31.1" y="256.5" font-size="8.5" fill="#2a2a2a" text-anchor="end" textLength="4.25" lengthAdjust="spacingAndGlyphs">0</text><line x1="34.3" y1="286.4" x2="37.7" y2="286.4" stroke="#5e5e5e" stroke-width="0.9"/><text x="31.1" y="289.0" font-size="8.5" fill="#2a2a2a" text-anchor="end" textLength="12.98" lengthAdjust="spacingAndGlyphs">−40</text><line x1="34.3" y1="318.8" x2="37.7" y2="318.8" stroke="#5e5e5e" stroke-width="0.9"/><text x="31.1" y="321.4" font-size="8.5" fill="#2a2a2a" text-anchor="end" textLength="12.98" lengthAdjust="spacingAndGlyphs">−80</text><text x="88.0" y="349.7" font-size="8.5" fill="#2a2a2a" stroke="#2a2a2a" stroke-width="0.12" textLength="85.6" lengthAdjust="spacingAndGlyphs">Metabolomic indices</text><text transform="translate(7.1 259.4) rotate(-90)" x="-48.8" y="0" font-size="8.5" fill="#2a2a2a" stroke="#2a2a2a" stroke-width="0.12" textLength="97.6" lengthAdjust="spacingAndGlyphs">Intake (energy adjusted)</text></g>
<g fill="#0b2149"><text x="232.1" y="189.6" font-size="12" font-weight="bold" fill="#000" stroke="#000" stroke-width="0.45" textLength="7.87" lengthAdjust="spacingAndGlyphs">e</text><text x="248.8" y="189.6" font-size="9.2" fill="#1a1a1a" stroke="#1a1a1a" stroke-width="0.12" textLength="19.3" lengthAdjust="spacingAndGlyphs">Fruit</text><text x="402.9" y="208.6" font-size="7.5" fill="#a8282c" textLength="47.0" lengthAdjust="spacingAndGlyphs">Pearson: 0.07</text><text x="398.4" y="219.9" font-size="7.5" fill="#a8282c" textLength="51.5" lengthAdjust="spacingAndGlyphs">Spearman: 0.11</text><circle cx="322.5" cy="200.4" r="1.62"/><circle cx="304.3" cy="222.0" r="1.62"/><circle cx="324.2" cy="221.0" r="1.62"/><circle cx="292.9" cy="227.4" r="1.62"/><circle cx="299.3" cy="232.3" r="1.62"/><circle cx="306.7" cy="231.0" r="1.62"/><circle cx="307.2" cy="233.2" r="1.62"/><circle cx="310.2" cy="230.9" r="1.62"/><circle cx="320.7" cy="230.0" r="1.62"/><circle cx="322.5" cy="230.8" r="1.62"/><circle cx="275.2" cy="236.7" r="1.62"/><circle cx="312.0" cy="236.1" r="1.62"/><circle cx="315.9" cy="239.4" r="1.62"/><circle cx="323.1" cy="240.2" r="1.62"/><circle cx="346.1" cy="222.5" r="1.62"/><circle cx="348.3" cy="222.5" r="1.62"/><circle cx="343.5" cy="230.4" r="1.62"/><circle cx="333.4" cy="235.2" r="1.62"/><circle cx="314.0" cy="241.2" r="1.62"/><circle cx="308.8" cy="241.7" r="1.62"/><circle cx="313.3" cy="244.1" r="1.62"/><circle cx="300.8" cy="246.3" r="1.62"/><circle cx="307.2" cy="249.2" r="1.62"/><circle cx="310.2" cy="248.5" r="1.62"/><circle cx="308.9" cy="252.0" r="1.62"/><circle cx="312.4" cy="251.1" r="1.62"/><circle cx="313.7" cy="253.3" r="1.62"/><circle cx="316.8" cy="250.3" r="1.62"/><circle cx="320.3" cy="249.4" r="1.62"/><circle cx="322.1" cy="252.9" r="1.62"/><circle cx="324.7" cy="253.3" r="1.62"/><circle cx="295.8" cy="252.5" r="1.62"/><circle cx="301.0" cy="252.0" r="1.62"/><circle cx="303.2" cy="257.3" r="1.62"/><circle cx="305.4" cy="260.3" r="1.62"/><circle cx="297.1" cy="260.6" r="1.62"/><circle cx="300.2" cy="262.5" r="1.62"/><circle cx="300.9" cy="263.8" r="1.62"/><circle cx="311.5" cy="259.9" r="1.62"/><circle cx="317.7" cy="256.4" r="1.62"/><circle cx="320.3" cy="257.3" r="1.62"/><circle cx="317.7" cy="259.5" r="1.62"/><circle cx="315.0" cy="262.4" r="1.62"/><circle cx="312.9" cy="264.7" r="1.62"/><circle cx="324.2" cy="259.0" r="1.62"/><circle cx="322.5" cy="264.7" r="1.62"/><circle cx="290.5" cy="270.0" r="1.62"/><circle cx="300.6" cy="267.3" r="1.62"/><circle cx="302.8" cy="267.8" r="1.62"/><circle cx="307.2" cy="266.5" r="1.62"/><circle cx="315.9" cy="268.2" r="1.62"/><circle cx="297.5" cy="271.1" r="1.62"/><circle cx="301.0" cy="271.7" r="1.62"/><circle cx="306.7" cy="271.7" r="1.62"/><circle cx="311.5" cy="272.6" r="1.62"/><circle cx="315.0" cy="273.5" r="1.62"/><circle cx="319.4" cy="272.2" r="1.62"/><circle cx="325.6" cy="271.3" r="1.62"/><circle cx="304.5" cy="273.9" r="1.62"/><circle cx="306.3" cy="275.7" r="1.62"/><circle cx="299.7" cy="276.5" r="1.62"/><circle cx="295.8" cy="277.9" r="1.62"/><circle cx="310.2" cy="276.5" r="1.62"/><circle cx="316.8" cy="277.0" r="1.62"/><circle cx="301.5" cy="279.2" r="1.62"/><circle cx="305.4" cy="278.3" r="1.62"/><circle cx="309.8" cy="279.2" r="1.62"/><circle cx="318.6" cy="278.7" r="1.62"/><circle cx="321.2" cy="279.6" r="1.62"/><circle cx="329.2" cy="241.3" r="1.62"/><circle cx="342.6" cy="241.5" r="1.62"/><circle cx="334.3" cy="243.4" r="1.62"/><circle cx="332.3" cy="245.4" r="1.62"/><circle cx="347.4" cy="245.9" r="1.62"/><circle cx="341.7" cy="250.0" r="1.62"/><circle cx="328.6" cy="253.1" r="1.62"/><circle cx="328.6" cy="258.0" r="1.62"/><circle cx="341.7" cy="258.4" r="1.62"/><circle cx="373.2" cy="255.3" r="1.62"/><circle cx="330.1" cy="263.6" r="1.62"/><circle cx="331.5" cy="265.2" r="1.62"/><circle cx="345.8" cy="265.2" r="1.62"/><circle cx="354.6" cy="265.3" r="1.62"/><circle cx="326.4" cy="271.3" r="1.62"/><circle cx="345.0" cy="272.3" r="1.62"/><circle cx="353.5" cy="271.5" r="1.62"/><circle cx="362.1" cy="276.3" r="1.62"/><circle cx="327.7" cy="280.5" r="1.62"/><circle cx="332.9" cy="280.3" r="1.62"/><circle cx="383.7" cy="284.0" r="1.62"/><circle cx="447.1" cy="282.7" r="1.62"/><circle cx="294.9" cy="281.9" r="1.62"/><circle cx="295.8" cy="284.6" r="1.62"/><circle cx="300.6" cy="281.5" r="1.62"/><circle cx="304.5" cy="281.9" r="1.62"/><circle cx="304.5" cy="284.6" r="1.62"/><circle cx="301.9" cy="287.2" r="1.62"/><circle cx="294.9" cy="288.1" r="1.62"/><circle cx="289.6" cy="288.7" r="1.62"/><circle cx="306.5" cy="288.5" r="1.62"/><circle cx="314.6" cy="283.7" r="1.62"/><circle cx="316.1" cy="283.3" r="1.62"/><circle cx="320.5" cy="285.0" r="1.62"/><circle cx="324.2" cy="282.8" r="1.62"/><circle cx="325.1" cy="286.3" r="1.62"/><circle cx="323.4" cy="289.8" r="1.62"/><circle cx="315.0" cy="291.1" r="1.62"/><circle cx="317.7" cy="291.6" r="1.62"/><circle cx="285.1" cy="296.0" r="1.62"/><circle cx="283.5" cy="300.3" r="1.62"/><circle cx="294.2" cy="297.7" r="1.62"/><circle cx="296.7" cy="297.3" r="1.62"/><circle cx="298.4" cy="298.3" r="1.62"/><circle cx="291.0" cy="301.2" r="1.62"/><circle cx="292.1" cy="302.7" r="1.62"/><circle cx="305.6" cy="301.4" r="1.62"/><circle cx="303.2" cy="304.5" r="1.62"/><circle cx="311.4" cy="296.8" r="1.62"/><circle cx="277.4" cy="313.7" r="1.62"/><circle cx="291.6" cy="318.3" r="1.62"/><circle cx="327.4" cy="288.9" r="1.62"/><circle cx="330.3" cy="287.2" r="1.62"/><circle cx="333.4" cy="288.5" r="1.62"/><circle cx="338.5" cy="290.1" r="1.62"/><circle cx="337.8" cy="293.6" r="1.62"/><circle cx="335.1" cy="295.5" r="1.62"/><circle cx="346.1" cy="287.4" r="1.62"/><circle cx="353.7" cy="283.7" r="1.62"/><circle cx="354.4" cy="288.1" r="1.62"/><circle cx="330.8" cy="300.3" r="1.62"/><circle cx="329.0" cy="304.3" r="1.62"/><circle cx="332.5" cy="303.8" r="1.62"/><circle cx="351.8" cy="305.8" r="1.62"/><polygon points="275.20,263.80 279.50,264.12 283.79,264.43 288.08,264.71 292.38,264.97 296.68,265.20 300.97,265.38 305.26,265.48 309.56,265.49 313.86,265.37 318.15,265.10 322.44,264.66 326.74,264.07 331.03,263.37 335.33,262.59 339.62,261.75 343.92,260.86 348.22,259.95 352.51,259.01 356.81,258.06 361.10,257.09 365.39,256.12 369.69,255.14 373.99,254.15 378.28,253.16 382.57,252.16 386.87,251.16 391.16,250.16 395.46,249.15 399.75,248.15 404.05,247.14 408.35,246.13 412.64,245.12 416.94,244.11 421.23,243.09 425.52,242.08 429.82,241.06 434.12,240.05 438.41,239.03 442.71,238.02 447.00,237.00 447.00,280.00 442.71,279.62 438.41,279.25 434.12,278.87 429.82,278.50 425.52,278.12 421.23,277.75 416.94,277.37 412.64,277.00 408.35,276.63 404.05,276.26 399.75,275.89 395.46,275.53 391.16,275.16 386.87,274.80 382.57,274.44 378.28,274.08 373.99,273.73 369.69,273.38 365.39,273.04 361.10,272.71 356.81,272.38 352.51,272.07 348.22,271.77 343.92,271.50 339.62,271.25 335.33,271.05 331.03,270.91 326.74,270.85 322.44,270.90 318.15,271.10 313.86,271.47 309.56,271.99 305.26,272.64 300.97,273.38 296.68,274.20 292.38,275.07 288.08,275.97 283.79,276.89 279.50,277.84 275.20,278.80" fill="#999" fill-opacity="0.38"/><line x1="275.2" y1="271.3" x2="447.0" y2="258.5" stroke="#b41f24" stroke-width="1.8"/><path d="M266.4 194.6 V324.2 H456.0" fill="none" stroke="#5e5e5e" stroke-width="1.0"/><line x1="274.8" y1="324.2" x2="274.8" y2="327.6" stroke="#5e5e5e" stroke-width="0.9"/><text x="274.8" y="337.0" font-size="8.5" fill="#2a2a2a" text-anchor="middle" textLength="8.72" lengthAdjust="spacingAndGlyphs">−2</text><line x1="317.4" y1="324.2" x2="317.4" y2="327.6" stroke="#5e5e5e" stroke-width="0.9"/><text x="317.4" y="337.0" font-size="8.5" fill="#2a2a2a" text-anchor="middle" textLength="4.25" lengthAdjust="spacingAndGlyphs">0</text><line x1="360.0" y1="324.2" x2="360.0" y2="327.6" stroke="#5e5e5e" stroke-width="0.9"/><text x="360.0" y="337.0" font-size="8.5" fill="#2a2a2a" text-anchor="middle" textLength="4.25" lengthAdjust="spacingAndGlyphs">2</text><line x1="402.7" y1="324.2" x2="402.7" y2="327.6" stroke="#5e5e5e" stroke-width="0.9"/><text x="402.7" y="337.0" font-size="8.5" fill="#2a2a2a" text-anchor="middle" textLength="4.25" lengthAdjust="spacingAndGlyphs">4</text><line x1="445.3" y1="324.2" x2="445.3" y2="327.6" stroke="#5e5e5e" stroke-width="0.9"/><text x="445.3" y="337.0" font-size="8.5" fill="#2a2a2a" text-anchor="middle" textLength="4.25" lengthAdjust="spacingAndGlyphs">6</text><line x1="263.0" y1="206.0" x2="266.4" y2="206.0" stroke="#5e5e5e" stroke-width="0.9"/><text x="259.8" y="208.6" font-size="8.5" fill="#2a2a2a" text-anchor="end" textLength="8.51" lengthAdjust="spacingAndGlyphs">40</text><line x1="263.0" y1="237.0" x2="266.4" y2="237.0" stroke="#5e5e5e" stroke-width="0.9"/><text x="259.8" y="239.6" font-size="8.5" fill="#2a2a2a" text-anchor="end" textLength="8.51" lengthAdjust="spacingAndGlyphs">20</text><line x1="263.0" y1="268.0" x2="266.4" y2="268.0" stroke="#5e5e5e" stroke-width="0.9"/><text x="259.8" y="270.6" font-size="8.5" fill="#2a2a2a" text-anchor="end" textLength="4.25" lengthAdjust="spacingAndGlyphs">0</text><line x1="263.0" y1="299.0" x2="266.4" y2="299.0" stroke="#5e5e5e" stroke-width="0.9"/><text x="259.8" y="301.6" font-size="8.5" fill="#2a2a2a" text-anchor="end" textLength="12.98" lengthAdjust="spacingAndGlyphs">−20</text><text x="319.0" y="349.7" font-size="8.5" fill="#2a2a2a" stroke="#2a2a2a" stroke-width="0.12" textLength="84.6" lengthAdjust="spacingAndGlyphs">Metabolomic indices</text><text transform="translate(239.3 259.4) rotate(-90)" x="-48.8" y="0" font-size="8.5" fill="#2a2a2a" stroke="#2a2a2a" stroke-width="0.12" textLength="97.6" lengthAdjust="spacingAndGlyphs">Intake (energy adjusted)</text></g>
<g fill="#0b2149"><text x="461.4" y="189.6" font-size="12" font-weight="bold" fill="#000" stroke="#000" stroke-width="0.45" textLength="4.71" lengthAdjust="spacingAndGlyphs">f</text><text x="475.2" y="189.6" font-size="9.2" fill="#1a1a1a" stroke="#1a1a1a" stroke-width="0.12" textLength="42.8" lengthAdjust="spacingAndGlyphs">Vegetable</text><text x="633.0" y="208.6" font-size="7.5" fill="#a8282c" textLength="45.8" lengthAdjust="spacingAndGlyphs">Pearson: 0.16</text><text x="624.8" y="219.9" font-size="7.5" fill="#a8282c" textLength="54.0" lengthAdjust="spacingAndGlyphs">Spearman: 0.14</text><circle cx="627.2" cy="200.5" r="1.62"/><circle cx="554.9" cy="272.5" r="1.62"/><circle cx="503.7" cy="282.8" r="1.62"/><circle cx="512.0" cy="284.3" r="1.62"/><circle cx="540.5" cy="286.7" r="1.62"/><circle cx="547.5" cy="286.1" r="1.62"/><circle cx="552.3" cy="285.8" r="1.62"/><circle cx="554.2" cy="285.6" r="1.62"/><circle cx="535.2" cy="293.8" r="1.62"/><circle cx="542.2" cy="293.5" r="1.62"/><circle cx="543.3" cy="292.7" r="1.62"/><circle cx="551.4" cy="294.4" r="1.62"/><circle cx="554.7" cy="292.2" r="1.62"/><circle cx="541.4" cy="297.0" r="1.62"/><circle cx="526.2" cy="300.5" r="1.62"/><circle cx="529.7" cy="301.2" r="1.62"/><circle cx="531.0" cy="301.0" r="1.62"/><circle cx="537.2" cy="302.1" r="1.62"/><circle cx="543.3" cy="301.6" r="1.62"/><circle cx="551.2" cy="302.7" r="1.62"/><circle cx="536.7" cy="304.9" r="1.62"/><circle cx="548.6" cy="304.9" r="1.62"/><circle cx="551.6" cy="305.8" r="1.62"/><circle cx="555.6" cy="302.3" r="1.62"/><circle cx="519.5" cy="307.4" r="1.62"/><circle cx="521.0" cy="306.3" r="1.62"/><circle cx="523.0" cy="306.7" r="1.62"/><circle cx="529.3" cy="308.7" r="1.62"/><circle cx="528.2" cy="312.5" r="1.62"/><circle cx="543.3" cy="308.9" r="1.62"/><circle cx="552.8" cy="306.5" r="1.62"/><circle cx="549.4" cy="307.8" r="1.62"/><circle cx="551.2" cy="309.1" r="1.62"/><circle cx="551.9" cy="311.6" r="1.62"/><circle cx="549.6" cy="316.8" r="1.62"/><circle cx="553.5" cy="318.3" r="1.62"/><circle cx="571.5" cy="273.1" r="1.62"/><circle cx="594.0" cy="274.9" r="1.62"/><circle cx="607.4" cy="277.6" r="1.62"/><circle cx="611.6" cy="276.0" r="1.62"/><circle cx="563.4" cy="279.1" r="1.62"/><circle cx="564.3" cy="282.1" r="1.62"/><circle cx="565.1" cy="285.2" r="1.62"/><circle cx="560.3" cy="283.0" r="1.62"/><circle cx="592.3" cy="278.6" r="1.62"/><circle cx="594.9" cy="280.4" r="1.62"/><circle cx="597.5" cy="280.0" r="1.62"/><circle cx="598.2" cy="283.0" r="1.62"/><circle cx="589.2" cy="283.9" r="1.62"/><circle cx="595.2" cy="285.6" r="1.62"/><circle cx="583.5" cy="285.5" r="1.62"/><circle cx="555.5" cy="286.1" r="1.62"/><circle cx="555.9" cy="290.9" r="1.62"/><circle cx="561.6" cy="289.2" r="1.62"/><circle cx="574.6" cy="289.2" r="1.62"/><circle cx="579.2" cy="287.8" r="1.62"/><circle cx="580.9" cy="290.0" r="1.62"/><circle cx="582.2" cy="291.6" r="1.62"/><circle cx="584.4" cy="288.3" r="1.62"/><circle cx="588.8" cy="290.0" r="1.62"/><circle cx="591.0" cy="290.5" r="1.62"/><circle cx="593.2" cy="290.9" r="1.62"/><circle cx="594.5" cy="292.2" r="1.62"/><circle cx="599.1" cy="290.5" r="1.62"/><circle cx="601.5" cy="288.1" r="1.62"/><circle cx="601.9" cy="292.2" r="1.62"/><circle cx="611.6" cy="289.2" r="1.62"/><circle cx="569.5" cy="292.7" r="1.62"/><circle cx="568.2" cy="294.4" r="1.62"/><circle cx="560.8" cy="294.8" r="1.62"/><circle cx="556.8" cy="295.7" r="1.62"/><circle cx="586.6" cy="294.6" r="1.62"/><circle cx="595.8" cy="297.0" r="1.62"/><circle cx="608.9" cy="296.2" r="1.62"/><circle cx="611.1" cy="297.0" r="1.62"/><circle cx="561.6" cy="299.7" r="1.62"/><circle cx="563.8" cy="300.5" r="1.62"/><circle cx="571.7" cy="301.9" r="1.62"/><circle cx="577.4" cy="299.7" r="1.62"/><circle cx="578.3" cy="301.2" r="1.62"/><circle cx="582.2" cy="299.7" r="1.62"/><circle cx="586.6" cy="298.3" r="1.62"/><circle cx="563.4" cy="304.5" r="1.62"/><circle cx="576.1" cy="304.0" r="1.62"/><circle cx="579.6" cy="303.2" r="1.62"/><circle cx="584.0" cy="304.0" r="1.62"/><circle cx="593.2" cy="304.5" r="1.62"/><circle cx="599.7" cy="303.6" r="1.62"/><circle cx="602.8" cy="303.2" r="1.62"/><circle cx="606.3" cy="304.0" r="1.62"/><circle cx="609.8" cy="302.7" r="1.62"/><circle cx="608.9" cy="300.5" r="1.62"/><circle cx="568.6" cy="306.9" r="1.62"/><circle cx="569.5" cy="309.1" r="1.62"/><circle cx="571.3" cy="307.8" r="1.62"/><circle cx="573.5" cy="309.1" r="1.62"/><circle cx="575.2" cy="312.2" r="1.62"/><circle cx="576.1" cy="305.6" r="1.62"/><circle cx="581.8" cy="306.9" r="1.62"/><circle cx="580.9" cy="310.0" r="1.62"/><circle cx="579.6" cy="313.5" r="1.62"/><circle cx="587.9" cy="308.3" r="1.62"/><circle cx="592.3" cy="308.3" r="1.62"/><circle cx="591.9" cy="310.9" r="1.62"/><circle cx="596.2" cy="310.5" r="1.62"/><circle cx="593.2" cy="317.9" r="1.62"/><circle cx="601.1" cy="306.5" r="1.62"/><circle cx="601.5" cy="308.3" r="1.62"/><circle cx="604.1" cy="312.5" r="1.62"/><circle cx="624.5" cy="265.8" r="1.62"/><circle cx="613.4" cy="272.9" r="1.62"/><circle cx="639.5" cy="280.6" r="1.62"/><circle cx="613.7" cy="289.0" r="1.62"/><circle cx="617.6" cy="289.0" r="1.62"/><circle cx="613.7" cy="292.7" r="1.62"/><circle cx="617.2" cy="291.8" r="1.62"/><circle cx="635.6" cy="291.2" r="1.62"/><circle cx="626.0" cy="295.3" r="1.62"/><circle cx="616.3" cy="296.2" r="1.62"/><circle cx="643.7" cy="295.5" r="1.62"/><circle cx="614.6" cy="300.1" r="1.62"/><circle cx="613.7" cy="301.9" r="1.62"/><circle cx="623.3" cy="302.1" r="1.62"/><circle cx="628.8" cy="299.5" r="1.62"/><circle cx="632.1" cy="300.4" r="1.62"/><circle cx="637.3" cy="301.4" r="1.62"/><circle cx="638.2" cy="300.5" r="1.62"/><circle cx="615.7" cy="306.7" r="1.62"/><circle cx="627.3" cy="305.6" r="1.62"/><circle cx="671.4" cy="292.5" r="1.62"/><circle cx="668.0" cy="303.2" r="1.62"/><circle cx="676.0" cy="302.3" r="1.62"/><polygon points="504.10,296.20 508.39,296.17 512.69,296.14 516.98,296.10 521.27,296.07 525.56,296.02 529.86,295.98 534.15,295.92 538.44,295.86 542.73,295.79 547.02,295.71 551.32,295.62 555.61,295.51 559.90,295.38 564.20,295.23 568.49,295.05 572.78,294.85 577.07,294.61 581.37,294.33 585.66,294.02 589.95,293.68 594.24,293.31 598.53,292.92 602.83,292.50 607.12,292.06 611.41,291.61 615.70,291.15 620.00,290.67 624.29,290.19 628.58,289.71 632.88,289.21 637.17,288.71 641.46,288.21 645.75,287.70 650.04,287.20 654.34,286.68 658.63,286.17 662.92,285.66 667.21,285.14 671.51,284.62 675.80,284.10 675.80,296.70 671.51,296.72 667.21,296.74 662.92,296.76 658.63,296.79 654.34,296.82 650.04,296.84 645.75,296.88 641.46,296.91 637.17,296.95 632.88,296.99 628.58,297.03 624.29,297.09 620.00,297.15 615.70,297.21 611.41,297.29 607.12,297.38 602.83,297.48 598.53,297.60 594.24,297.75 589.95,297.92 585.66,298.12 581.37,298.35 577.07,298.61 572.78,298.91 568.49,299.25 564.20,299.61 559.90,300.00 555.61,300.41 551.32,300.84 547.02,301.29 542.73,301.75 538.44,302.22 534.15,302.70 529.86,303.18 525.56,303.68 521.27,304.17 516.98,304.68 512.69,305.18 508.39,305.69 504.10,306.20" fill="#999" fill-opacity="0.38"/><line x1="504.1" y1="301.2" x2="675.8" y2="290.4" stroke="#b41f24" stroke-width="1.8"/><path d="M495.7 194.6 V324.2 H685.0" fill="none" stroke="#5e5e5e" stroke-width="1.0"/><line x1="517.7" y1="324.2" x2="517.7" y2="327.6" stroke="#5e5e5e" stroke-width="0.9"/><text x="517.7" y="337.0" font-size="8.5" fill="#2a2a2a" text-anchor="middle" textLength="8.72" lengthAdjust="spacingAndGlyphs">−2</text><line x1="549.5" y1="324.2" x2="549.5" y2="327.6" stroke="#5e5e5e" stroke-width="0.9"/><text x="549.5" y="337.0" font-size="8.5" fill="#2a2a2a" text-anchor="middle" textLength="8.72" lengthAdjust="spacingAndGlyphs">−1</text><line x1="581.4" y1="324.2" x2="581.4" y2="327.6" stroke="#5e5e5e" stroke-width="0.9"/><text x="581.4" y="337.0" font-size="8.5" fill="#2a2a2a" text-anchor="middle" textLength="4.25" lengthAdjust="spacingAndGlyphs">0</text><line x1="613.2" y1="324.2" x2="613.2" y2="327.6" stroke="#5e5e5e" stroke-width="0.9"/><text x="613.2" y="337.0" font-size="8.5" fill="#2a2a2a" text-anchor="middle" textLength="4.25" lengthAdjust="spacingAndGlyphs">1</text><line x1="645.1" y1="324.2" x2="645.1" y2="327.6" stroke="#5e5e5e" stroke-width="0.9"/><text x="645.1" y="337.0" font-size="8.5" fill="#2a2a2a" text-anchor="middle" textLength="4.25" lengthAdjust="spacingAndGlyphs">2</text><line x1="677.0" y1="324.2" x2="677.0" y2="327.6" stroke="#5e5e5e" stroke-width="0.9"/><text x="677.0" y="337.0" font-size="8.5" fill="#2a2a2a" text-anchor="middle" textLength="4.25" lengthAdjust="spacingAndGlyphs">3</text><line x1="492.3" y1="200.1" x2="495.7" y2="200.1" stroke="#5e5e5e" stroke-width="0.9"/><text x="489.1" y="202.7" font-size="8.5" fill="#2a2a2a" text-anchor="end" textLength="12.76" lengthAdjust="spacingAndGlyphs">150</text><line x1="492.3" y1="232.2" x2="495.7" y2="232.2" stroke="#5e5e5e" stroke-width="0.9"/><text x="489.1" y="234.8" font-size="8.5" fill="#2a2a2a" text-anchor="end" textLength="12.76" lengthAdjust="spacingAndGlyphs">100</text><line x1="492.3" y1="264.3" x2="495.7" y2="264.3" stroke="#5e5e5e" stroke-width="0.9"/><text x="489.1" y="266.9" font-size="8.5" fill="#2a2a2a" text-anchor="end" textLength="8.51" lengthAdjust="spacingAndGlyphs">50</text><line x1="492.3" y1="296.4" x2="495.7" y2="296.4" stroke="#5e5e5e" stroke-width="0.9"/><text x="489.1" y="299.0" font-size="8.5" fill="#2a2a2a" text-anchor="end" textLength="4.25" lengthAdjust="spacingAndGlyphs">0</text><text x="547.9" y="349.7" font-size="8.5" fill="#2a2a2a" stroke="#2a2a2a" stroke-width="0.12" textLength="84.7" lengthAdjust="spacingAndGlyphs">Metabolomic indices</text><text transform="translate(468.3 259.4) rotate(-90)" x="-48.8" y="0" font-size="8.5" fill="#2a2a2a" stroke="#2a2a2a" stroke-width="0.12" textLength="97.6" lengthAdjust="spacingAndGlyphs">Intake (energy adjusted)</text></g>
<g fill="#0b2149"><text x="-0.3" y="370.1" font-size="12" font-weight="bold" fill="#000" stroke="#000" stroke-width="0.45" textLength="8.65" lengthAdjust="spacingAndGlyphs">g</text><text x="18.0" y="370.1" font-size="9.2" fill="#1a1a1a" stroke="#1a1a1a" stroke-width="0.12" textLength="25.8" lengthAdjust="spacingAndGlyphs">Potato</text><text x="177.0" y="389.7" font-size="7.5" fill="#a8282c" textLength="46.8" lengthAdjust="spacingAndGlyphs">Pearson: 0.28</text><text x="169.9" y="400.6" font-size="7.5" fill="#a8282c" textLength="53.9" lengthAdjust="spacingAndGlyphs">Spearman: 0.16</text><circle cx="116.0" cy="381.3" r="1.62"/><circle cx="124.0" cy="390.5" r="1.62"/><circle cx="130.2" cy="407.4" r="1.62"/><circle cx="133.5" cy="413.9" r="1.62"/><circle cx="144.6" cy="415.6" r="1.62"/><circle cx="135.7" cy="419.4" r="1.62"/><circle cx="220.5" cy="419.1" r="1.62"/><circle cx="212.1" cy="432.8" r="1.62"/><circle cx="221.1" cy="451.2" r="1.62"/><circle cx="98.5" cy="434.5" r="1.62"/><circle cx="86.2" cy="451.5" r="1.62"/><circle cx="89.8" cy="450.2" r="1.62"/><circle cx="95.4" cy="453.5" r="1.62"/><circle cx="99.1" cy="453.9" r="1.62"/><circle cx="96.5" cy="456.7" r="1.62"/><circle cx="86.4" cy="457.4" r="1.62"/><circle cx="83.2" cy="460.7" r="1.62"/><circle cx="67.9" cy="460.0" r="1.62"/><circle cx="68.5" cy="463.0" r="1.62"/><circle cx="97.4" cy="462.2" r="1.62"/><circle cx="112.2" cy="421.5" r="1.62"/><circle cx="128.6" cy="422.4" r="1.62"/><circle cx="142.2" cy="430.3" r="1.62"/><circle cx="123.8" cy="433.3" r="1.62"/><circle cx="122.7" cy="438.8" r="1.62"/><circle cx="121.2" cy="445.6" r="1.62"/><circle cx="141.5" cy="442.8" r="1.62"/><circle cx="114.7" cy="451.3" r="1.62"/><circle cx="127.7" cy="452.9" r="1.62"/><circle cx="128.4" cy="456.1" r="1.62"/><circle cx="117.5" cy="455.7" r="1.62"/><circle cx="119.6" cy="455.7" r="1.62"/><circle cx="109.6" cy="453.9" r="1.62"/><circle cx="111.3" cy="453.9" r="1.62"/><circle cx="109.1" cy="456.1" r="1.62"/><circle cx="100.4" cy="457.9" r="1.62"/><circle cx="103.0" cy="456.1" r="1.62"/><circle cx="104.3" cy="458.7" r="1.62"/><circle cx="100.8" cy="460.5" r="1.62"/><circle cx="110.0" cy="460.5" r="1.62"/><circle cx="142.4" cy="457.4" r="1.62"/><circle cx="132.8" cy="461.8" r="1.62"/><circle cx="168.8" cy="462.2" r="1.62"/><circle cx="79.0" cy="467.5" r="1.62"/><circle cx="82.0" cy="468.5" r="1.62"/><circle cx="83.4" cy="467.2" r="1.62"/><circle cx="89.1" cy="471.1" r="1.62"/><circle cx="46.1" cy="475.3" r="1.62"/><circle cx="50.7" cy="474.6" r="1.62"/><circle cx="74.6" cy="473.6" r="1.62"/><circle cx="76.8" cy="474.0" r="1.62"/><circle cx="60.0" cy="479.0" r="1.62"/><circle cx="68.9" cy="479.6" r="1.62"/><circle cx="96.5" cy="471.8" r="1.62"/><circle cx="96.9" cy="473.8" r="1.62"/><circle cx="91.7" cy="476.4" r="1.62"/><circle cx="90.4" cy="479.0" r="1.62"/><circle cx="93.0" cy="478.6" r="1.62"/><circle cx="89.5" cy="481.5" r="1.62"/><circle cx="96.1" cy="478.1" r="1.62"/><circle cx="96.5" cy="480.8" r="1.62"/><circle cx="98.2" cy="481.2" r="1.62"/><circle cx="90.4" cy="485.6" r="1.62"/><circle cx="91.7" cy="486.9" r="1.62"/><circle cx="97.4" cy="487.8" r="1.62"/><circle cx="54.6" cy="488.5" r="1.62"/><circle cx="62.6" cy="488.8" r="1.62"/><circle cx="81.0" cy="488.2" r="1.62"/><circle cx="88.6" cy="489.5" r="1.62"/><circle cx="88.2" cy="492.3" r="1.62"/><circle cx="81.6" cy="492.3" r="1.62"/><circle cx="73.3" cy="491.1" r="1.62"/><circle cx="99.6" cy="493.9" r="1.62"/><circle cx="104.8" cy="463.3" r="1.62"/><circle cx="108.3" cy="464.3" r="1.62"/><circle cx="110.9" cy="464.6" r="1.62"/><circle cx="111.3" cy="466.3" r="1.62"/><circle cx="116.6" cy="465.9" r="1.62"/><circle cx="118.9" cy="464.6" r="1.62"/><circle cx="115.3" cy="470.7" r="1.62"/><circle cx="118.3" cy="471.1" r="1.62"/><circle cx="125.8" cy="469.8" r="1.62"/><circle cx="128.0" cy="470.7" r="1.62"/><circle cx="131.5" cy="472.0" r="1.62"/><circle cx="133.7" cy="471.1" r="1.62"/><circle cx="152.1" cy="472.0" r="1.62"/><circle cx="145.8" cy="474.5" r="1.62"/><circle cx="142.0" cy="477.3" r="1.62"/><circle cx="143.3" cy="481.8" r="1.62"/><circle cx="102.1" cy="474.2" r="1.62"/><circle cx="104.3" cy="476.0" r="1.62"/><circle cx="108.7" cy="475.1" r="1.62"/><circle cx="110.5" cy="476.0" r="1.62"/><circle cx="117.5" cy="474.6" r="1.62"/><circle cx="122.3" cy="475.1" r="1.62"/><circle cx="128.0" cy="474.6" r="1.62"/><circle cx="132.3" cy="476.4" r="1.62"/><circle cx="109.1" cy="477.7" r="1.62"/><circle cx="116.1" cy="477.7" r="1.62"/><circle cx="122.7" cy="476.8" r="1.62"/><circle cx="125.3" cy="477.7" r="1.62"/><circle cx="106.5" cy="479.5" r="1.62"/><circle cx="111.8" cy="479.5" r="1.62"/><circle cx="119.2" cy="479.9" r="1.62"/><circle cx="99.5" cy="482.5" r="1.62"/><circle cx="104.1" cy="482.7" r="1.62"/><circle cx="109.1" cy="483.4" r="1.62"/><circle cx="123.2" cy="481.2" r="1.62"/><circle cx="124.5" cy="483.0" r="1.62"/><circle cx="129.3" cy="480.8" r="1.62"/><circle cx="127.1" cy="484.3" r="1.62"/><circle cx="129.3" cy="483.4" r="1.62"/><circle cx="112.6" cy="485.2" r="1.62"/><circle cx="114.4" cy="486.0" r="1.62"/><circle cx="108.3" cy="486.5" r="1.62"/><circle cx="112.2" cy="487.8" r="1.62"/><circle cx="119.6" cy="488.0" r="1.62"/><circle cx="134.1" cy="486.0" r="1.62"/><circle cx="104.3" cy="491.1" r="1.62"/><circle cx="113.1" cy="490.4" r="1.62"/><circle cx="114.8" cy="492.4" r="1.62"/><circle cx="117.9" cy="491.3" r="1.62"/><circle cx="118.3" cy="492.6" r="1.62"/><circle cx="100.8" cy="494.1" r="1.62"/><circle cx="109.6" cy="495.0" r="1.62"/><circle cx="125.3" cy="497.6" r="1.62"/><circle cx="132.3" cy="496.3" r="1.62"/><circle cx="140.5" cy="499.0" r="1.62"/><circle cx="160.5" cy="470.5" r="1.62"/><circle cx="161.4" cy="476.7" r="1.62"/><circle cx="156.5" cy="484.2" r="1.62"/><polygon points="46.10,474.00 50.47,473.57 54.84,473.13 59.21,472.69 63.58,472.24 67.95,471.78 72.32,471.32 76.69,470.84 81.06,470.35 85.43,469.84 89.80,469.31 94.17,468.74 98.54,468.14 102.91,467.49 107.28,466.77 111.65,465.97 116.02,465.08 120.39,464.10 124.76,463.03 129.13,461.88 133.50,460.67 137.87,459.41 142.24,458.10 146.61,456.77 150.98,455.41 155.35,454.04 159.72,452.65 164.09,451.25 168.46,449.84 172.83,448.42 177.20,447.00 181.57,445.57 185.94,444.14 190.31,442.71 194.68,441.27 199.05,439.83 203.42,438.39 207.79,436.94 212.16,435.50 216.53,434.05 220.90,432.60 220.90,458.80 216.53,459.22 212.16,459.63 207.79,460.05 203.42,460.47 199.05,460.90 194.68,461.32 190.31,461.75 185.94,462.18 181.57,462.61 177.20,463.05 172.83,463.49 168.46,463.94 164.09,464.40 159.72,464.86 155.35,465.34 150.98,465.83 146.61,466.34 142.24,466.87 137.87,467.43 133.50,468.03 129.13,468.68 124.76,469.40 120.39,470.20 116.02,471.08 111.65,472.06 107.28,473.12 102.91,474.27 98.54,475.48 94.17,476.74 89.80,478.04 85.43,479.38 81.06,480.73 76.69,482.11 72.32,483.49 67.95,484.89 63.58,486.30 59.21,487.72 54.84,489.14 50.47,490.57 46.10,492.00" fill="#999" fill-opacity="0.38"/><line x1="46.1" y1="483.0" x2="220.9" y2="445.7" stroke="#b41f24" stroke-width="1.8"/><path d="M37.7 375.1 V504.5 H226.9" fill="none" stroke="#5e5e5e" stroke-width="1.0"/><line x1="59.3" y1="504.5" x2="59.3" y2="507.9" stroke="#5e5e5e" stroke-width="0.9"/><text x="59.3" y="517.3" font-size="8.5" fill="#2a2a2a" text-anchor="middle" textLength="8.72" lengthAdjust="spacingAndGlyphs">−2</text><line x1="112.3" y1="504.5" x2="112.3" y2="507.9" stroke="#5e5e5e" stroke-width="0.9"/><text x="112.3" y="517.3" font-size="8.5" fill="#2a2a2a" text-anchor="middle" textLength="4.25" lengthAdjust="spacingAndGlyphs">0</text><line x1="165.3" y1="504.5" x2="165.3" y2="507.9" stroke="#5e5e5e" stroke-width="0.9"/><text x="165.3" y="517.3" font-size="8.5" fill="#2a2a2a" text-anchor="middle" textLength="4.25" lengthAdjust="spacingAndGlyphs">2</text><line x1="218.3" y1="504.5" x2="218.3" y2="507.9" stroke="#5e5e5e" stroke-width="0.9"/><text x="218.3" y="517.3" font-size="8.5" fill="#2a2a2a" text-anchor="middle" textLength="4.25" lengthAdjust="spacingAndGlyphs">4</text><line x1="34.3" y1="421.2" x2="37.7" y2="421.2" stroke="#5e5e5e" stroke-width="0.9"/><text x="31.1" y="423.8" font-size="8.5" fill="#2a2a2a" text-anchor="end" textLength="8.51" lengthAdjust="spacingAndGlyphs">10</text><line x1="34.3" y1="468.9" x2="37.7" y2="468.9" stroke="#5e5e5e" stroke-width="0.9"/><text x="31.1" y="471.5" font-size="8.5" fill="#2a2a2a" text-anchor="end" textLength="4.25" lengthAdjust="spacingAndGlyphs">0</text><text x="88.0" y="530.2" font-size="8.5" fill="#2a2a2a" stroke="#2a2a2a" stroke-width="0.12" textLength="85.6" lengthAdjust="spacingAndGlyphs">Metabolomic indices</text><text transform="translate(7.1 439.8) rotate(-90)" x="-48.8" y="0" font-size="8.5" fill="#2a2a2a" stroke="#2a2a2a" stroke-width="0.12" textLength="97.6" lengthAdjust="spacingAndGlyphs">Intake (energy adjusted)</text></g>
</svg></body></html>
